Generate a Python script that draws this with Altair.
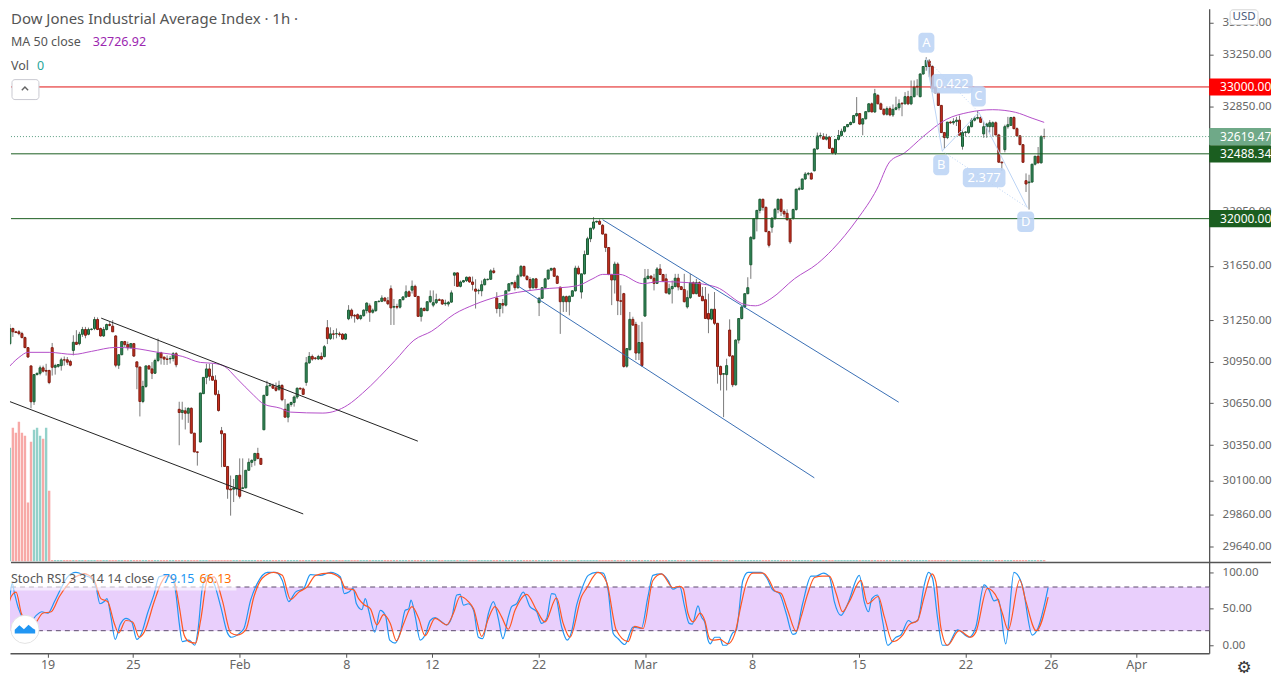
import altair as alt
import pandas as pd

FONT = "Noto Sans"
PLOT_W = 1202
PRICE_H = 554
STOCH_H = 91

first_bar = -78
opens = [
    31055,31079,31189,31165,31165,31152,31123,31050,30918,30660,
    30855,30865,30904,30885,30885,31050,30908,30915,30920,30962,
    30962,30950,31030,31089,31079,31147,31182,31147,31182,31189,
    31255,31189,31135,31182,31218,31206,31135,30923,30999,31094,
    31072,31050,31079,30947,30910,30662,30770,30918,30896,30865,
    30957,31013,30982,30968,30968,30972,31006,30606,30583,30595,
    30578,30613,30436,30303,30373,30718,30835,30896,30843,30815,
    30713,30453,30432,30200,30042,30040,30042,30138,30045,30050,
    30173,30229,30243,30292,30257,30460,30706,30775,30775,30760,
    30750,30777,30606,30550,30641,30655,30694,30757,30752,30799,
    30940,30986,30975,30968,30986,
    30985,31195,31116,31150,31150,31150,31148,31112,31260,31323,
    31285,31290,31262,31283,31320,31355,31308,31320,31386,31388,
    31412,31392,31480,31345,31350,31345,31400,31420,31458,31470,
    31498,31424,31278,31335,31320,31385,31360,31378,31400,31398,
    31370,31368,31382,31580,31597,31498,31530,31540,31565,31530,
    31478,31465,31465,31510,31548,31550,31612,31412,31335,31372,
    31360,31465,31517,31525,31488,31575,31645,31572,31548,31488,
    31553,31378,31410,31488,31553,31618,31630,31572,31492,31385,
    31422,31385,31425,31465,31632,31456,31590,31733,31850,31929,
    31975,31980,31950,31885,31785,31585,31545,31662,31392,31444,
    30916,31035,31256,31219,31011,31087,31280,31555,31573,31558,
    31520,31626,31585,31553,31444,31480,31497,31558,31495,31475,
    31347,31415,31525,31444,31525,31425,31400,31299,31258,31330,
    31227,30914,30858,30855,31178,30990,30782,31105,31262,31347,
    31444,31657,31850,32000,32062,32145,32085,31903,31936,32005,
    32070,32145,32055,32040,31992,32005,32068,32221,32221,32298,
    32335,32340,32360,32525,32624,32620,32600,32615,32530,32495,
    32598,32628,32660,32695,32712,32727,
    32780,32795,
    32715,32755,32810,32870,32808,32935,32870,32828,32790,32833,32785,32828,32840,
    32875,32870,32925,32870,32925,33000,32925,33100,33158,33200,
    33158,32995,32955,32858,32650,32612,32730,32725,32735,32745,
    32545,32650,32650,32695,32745,32760,32765,32640,32695,32695,
    32695,32725,32632,32425,32520,32695,32705,32765,32680,32625,
    32558,32285,32270,32275,32410,32470,32420,32620,
]
highs = [
    31104,31221,31196,31172,31177,31165,31130,31055,30918,30855,
    30865,30920,30920,30933,30890,31084,30933,30930,30977,30986,
    30982,30962,31140,31177,31165,31201,31201,31196,31190,31274,
    31270,31196,31201,31225,31238,31250,31140,31000,31095,31099,
    31094,31084,31084,30947,30910,30811,30918,30925,30945,30970,
    31116,31020,30982,30994,30990,31018,31018,30660,30660,30620,
    30620,30620,30436,30305,30723,30835,30933,30933,30933,30850,
    30742,30480,30432,30200,30136,30112,30136,30257,30257,30170,
    30257,30250,30296,30332,30257,30710,30811,30795,30790,30798,
    30811,30786,30680,30650,30660,30705,30762,30762,30762,30982,
    31018,31000,30982,30998,31015,
    31069,31251,31198,31178,31190,31165,31155,31155,31360,31335,
    31295,31299,31290,31330,31380,31372,31335,31390,31396,31432,
    31420,31420,31505,31405,31370,31400,31425,31505,31468,31541,
    31510,31425,31345,31345,31385,31468,31468,31444,31410,31405,
    31400,31390,31468,31600,31600,31541,31545,31570,31570,31570,
    31550,31480,31541,31560,31555,31625,31635,31455,31375,31405,
    31465,31520,31530,31541,31590,31655,31650,31580,31565,31555,
    31560,31420,31490,31560,31620,31635,31640,31580,31495,31430,
    31430,31430,31470,31650,31650,31590,31762,31865,31930,32012,
    31985,31995,31960,31885,31785,31590,31680,31675,31505,31450,
    31045,31310,31275,31238,31214,31238,31626,31626,31580,31590,
    31640,31662,31590,31590,31517,31541,31590,31590,31500,31590,
    31468,31590,31535,31553,31535,31493,31493,31444,31330,31456,
    31230,30920,30865,30970,31256,30995,31110,31262,31350,31444,
    31565,31870,32000,32065,32150,32150,32090,31910,32005,32080,
    32150,32150,32070,32070,31998,32075,32225,32240,32300,32350,
    32350,32350,32530,32650,32650,32645,32640,32625,32535,32600,
    32670,32680,32700,32715,32735,32785,
    32922,32800,
    32760,32810,32875,32880,32985,32945,32880,32835,32850,32850,32865,32925,32905,
    32880,32960,32970,33050,33050,33060,33105,33160,33230,33215,
    33170,33000,32960,32860,32655,32730,32740,32760,32770,32780,
    32665,32660,32705,32760,32775,32820,32775,32735,32725,32745,
    32735,32735,32640,32430,32710,32770,32770,32775,32690,32630,
    32560,32340,32330,32410,32470,32540,32630,32680,
]
lows = [
    31048,31067,31128,31155,31140,31118,31050,30977,30613,30637,
    30850,30850,30870,30848,30786,30848,30855,30905,30884,30920,
    30925,30915,30994,31070,31067,31128,31118,31140,31175,31177,
    31177,31130,31128,31175,31205,31165,30908,30896,30995,31055,
    31030,31045,30982,30750,30555,30650,30760,30890,30823,30860,
    30945,30928,30925,30925,30935,30950,30908,30350,30532,30462,
    30509,30435,30300,30206,30370,30715,30786,30811,30811,30705,
    30590,30195,30200,29973,29855,29950,29996,29975,30040,30045,
    30170,30195,30206,30250,30212,30458,30700,30770,30755,30733,
    30738,30664,30548,30513,30625,30625,30680,30745,30710,30775,
    30933,30955,30960,30960,30960,
    30980,31076,31106,31110,31118,31130,31105,31105,31250,31262,
    31232,31251,31250,31275,31299,31238,31298,31310,31380,31382,
    31385,31360,31215,31215,31330,31335,31395,31412,31420,31445,
    31420,31275,31240,31315,31315,31375,31345,31368,31390,31362,
    31355,31350,31378,31500,31497,31490,31525,31530,31525,31468,
    31335,31440,31425,31505,31540,31545,31590,31300,31275,31300,
    31350,31460,31505,31468,31480,31565,31570,31540,31465,31480,
    31480,31280,31405,31480,31545,31610,31570,31515,31150,31310,
    31310,31285,31420,31460,31585,31408,31585,31730,31825,31915,
    31970,31955,31882,31752,31580,31360,31445,31287,31287,30905,
    30905,31030,31210,30960,30960,30910,31275,31550,31550,31468,
    31515,31585,31535,31445,31435,31372,31490,31468,31470,31380,
    31335,31405,31440,31440,31425,31390,31260,31155,31250,31214,
    30790,30741,30550,30741,30985,30765,30775,31080,31255,31340,
    31440,31553,31845,31905,32040,32060,31900,31785,31895,31990,
    32040,32020,32010,31985,31812,31992,32060,32210,32215,32290,
    32325,32295,32355,32520,32605,32595,32590,32525,32485,32480,
    32590,32620,32650,32690,32705,32720,
    32770,32710,
    32630,32750,32805,32805,32800,32868,32825,32780,32780,32775,32770,32820,32820,
    32775,32865,32860,32860,32920,32935,32920,33095,33125,33075,
    32960,32950,32855,32650,32525,32600,32715,32710,32700,32630,
    32520,32620,32640,32690,32735,32750,32725,32610,32610,32650,
    32620,32630,32420,32360,32500,32680,32700,32675,32620,32555,
    32424,32200,32068,32270,32400,32415,32415,32600,
]
closes = [
    31050,31189,31165,31160,31152,31123,31050,30982,30660,30855,
    30865,30904,30880,30880,30798,30908,30920,30928,30962,30960,
    30945,30923,31089,31074,31147,31182,31140,31182,31185,31255,
    31182,31135,31182,31218,31212,31165,30923,30999,31094,31072,
    31050,31079,30989,30910,30662,30770,30918,30896,30865,30957,
    31013,30977,30967,30965,30972,31006,30926,30583,30599,30578,
    30613,30436,30303,30300,30723,30835,30896,30843,30815,30713,
    30597,30432,30200,30040,30035,30047,30136,29990,30050,30173,
    30229,30243,30292,30257,30215,30706,30772,30780,30757,30742,
    30777,30675,30550,30641,30655,30694,30757,30752,30713,30940,
    30986,30967,30972,30986,30968,
    31057,31116,31150,31147,31152,31145,31112,31148,31323,31282,
    31280,31262,31283,31323,31375,31308,31323,31386,31388,31412,
    31392,31370,31340,31350,31345,31400,31420,31458,31425,31498,
    31424,31278,31335,31320,31385,31424,31378,31400,31395,31368,
    31375,31380,31450,31597,31498,31530,31540,31565,31530,31512,
    31462,31468,31510,31548,31550,31612,31600,31335,31372,31360,
    31465,31517,31525,31488,31575,31645,31575,31548,31488,31553,
    31488,31410,31488,31553,31618,31630,31572,31520,31385,31422,
    31385,31425,31465,31632,31590,31590,31733,31850,31929,31975,
    31980,31958,31885,31785,31585,31545,31662,31392,31388,30914,
    31043,31256,31214,31011,31087,30921,31558,31573,31558,31520,
    31626,31585,31536,31450,31480,31497,31558,31493,31475,31385,
    31415,31525,31444,31525,31425,31392,31262,31258,31330,31227,
    30914,30855,30862,30920,30990,30782,31105,31262,31347,31444,
    31488,31860,32000,32062,32145,32085,31903,31802,32005,32070,
    32145,32055,32035,31992,31827,32068,32221,32225,32298,32335,
    32340,32297,32525,32624,32628,32600,32615,32530,32495,32598,
    32628,32660,32695,32712,32727,32780,
    32795,32715,
    32755,32810,32870,32808,32948,32870,32828,32790,32833,32785,32828,32840,32870,
    32870,32925,32870,32925,33000,33005,33100,33158,33205,33158,
    32985,32955,32858,32650,32612,32730,32725,32735,32745,32630,
    32650,32655,32695,32745,32760,32765,32728,32695,32715,32725,
    32725,32632,32425,32420,32695,32710,32765,32680,32625,32558,
    32424,32260,32275,32410,32470,32420,32620,32619.47,
]

ma_bars = [-78,-74,-71,-64,-56,-50,-42,-36,-28,-20,-14,-9.5,-6,-2,3.6,7,12.4,15.7,26.5,34.7,39.6,50.4,56.6,62.5,70,76.5,84.4,90.9,98.5,110.6,115.8,119,124.6,132.2,137.7,147.5,156.4,166.2,169.5,174.7,182.5,190,195,203.1,209.7,213.9,218.8,225,232.6,240.1,248,255.5,261,265]
ma_vals = [30893,30979,31016,31016,31001,31023,31052,31045,31016,30987,30943,30936,30914,30829,30707,30643,30614,30586,30579,30636,30721,30957,31104,31170,31295,31363,31423,31454,31477,31502,31555,31586,31586,31518,31533,31525,31494,31363,31355,31408,31555,31665,31770,31992,32222,32427,32495,32620,32750,32805,32825,32805,32760,32728]

vol_values = [103,114,134,129,140,129,126,59,120,132,134,126,123,134,71]
vol_up = [False,True,False,False,False,False,False,False,False,True,True,True,False,True,False]

stoch_k_bars = [-78,-76.6,-75.5,-74.6,-73.8,-72.7,-71.6,-70,-66.7,-64.9,-62.9,-60.7,-58.6,-56.4,-53.7,-50.9,-48.7,-47.1,-45.8,-44.4,-43.5,-42.2,-40.8,-39.2,-37.3,-35.4,-33.7,-32.4,-30.2,-28,-26.4,-24.2,-22,-20.9,-19.8,-18.8,-16.6,-14.7,-13.6,-12.2,-10.6,-8.4,-6.2,-4,-2.7,-0.2,1.4,3.6,5.8,9.1,11.8,14,16.1,18.3,21,23.2,26.5,29.8,
    33,34.3,35.8,37.2,38.3,40.1,41.2,42.3,44.3,46.1,47.8,49.2,51,52.7,54.3,55.4,56.2,57.6,59.2,60.8,62.5,64.1,66.3,67.9,69.6,71.2,72.3,73.4,75,76.7,78.3,79.7,81.6,83.2,84.8,86.3,88.1,89.2,90.8,93,95.2,97.4,99,100.7,102.3,103.4,105.6,107.4,108.8,110.5,112.1,114.3,117,119.2,120.8,122.5,124.1,126.3,129,131.7,133.9,135.5,138.3,140.5,142.1,
    144.3,145.9,147.4,148.4,150.3,151.4,152.5,153.6,154.3,155.8,157.4,158.5,159.6,161.7,162.8,165,166.7,171,172.9,174.8,177,179.2,181.4,182.3,184.6,187.4,189,191.4,193.4,195,197.2,199.4,203.2,204.8,206.2,207.3,209.2,210.8,212.5,215.2,216.8,219.3,220.6,222.3,224.5,225.9,227.2,228.8,230.5,232.1,235.4,239.2,241.4,244.1,245.7,247.4,248.8,251.2,253.9,256.6,259.9,261.5,265.1]
stoch_k_vals = [40,40,62,85,71,53,41,23,41,46,44,60,78,94,100,96,92,80,57,60,64,39,8,28,37,32,8,14,44,71,94,96,92,71,30,5,7,0,23,80,96,85,53,17,11,16,23,62,85,100,100,89,60,73,78,97,96,100,
    94,71,73,78,57,49,64,48,18,48,41,7,3,18,48,50,62,39,7,14,34,38,32,28,39,69,70,55,57,48,11,9,44,60,37,9,39,53,57,73,53,46,30,37,71,70,25,7,18,55,76,96,100,99,76,16,9,1,25,23,67,96,98,89,77,
    81,53,30,29,54,39,32,7,2,11,11,0,0,17,20,89,100,100,92,76,71,44,15,16,57,95,95,99,94,60,41,57,96,60,46,64,69,34,0,11,14,34,31,34,83,100,92,39,0,0,21,11,25,83,76,61,63,2,100,83,14,21,79.15]
stoch_d_bars = [-77.6,-76.6,-74.9,-73.3,-71.6,-68.9,-66.7,-64.6,-61.8,-59.1,-56.4,-53.7,-50.9,-47.7,-45.5,-43.3,-41.1,-39.7,-37.3,-35.1,-32.9,-31.3,-28,-25.8,-23.7,-21.5,-19.8,-18.2,-16.6,-14.4,-12.8,-10.6,-8.4,-5.7,-2.9,-0.8,2,4.7,7.4,11.2,14,16.7,19.4,22.1,24.9,29.2,
    33,34.7,37.4,39,40.7,42.9,45,47.2,49.4,51.4,53.8,56.5,58.7,60.8,64.1,67.9,70.1,72.3,75,76.7,79.4,81.6,83.7,85.9,88.1,90.3,94.1,97.4,100.1,103.9,106.1,108.3,112.1,113.7,117.5,120.3,123.5,127.4,129.5,132.3,135.5,138.3,142.1,
    144.3,145.4,147,148.7,151,152.5,154.1,155.2,157.4,160.1,162.3,164.5,166.1,168.3,171.6,173.7,175.4,177.6,179.7,182.5,184.1,186.3,188.5,191.2,193.4,195.6,197.7,199.9,203.7,205.9,209.4,211.4,214.1,217.4,219.5,222.3,224.5,227,228.3,229.9,232.1,235.9,239.7,241.4,245.2,248.5,250.1,252,255.8,257.7,261.2,265.1]
stoch_d_vals = [69,48,67,73,44,28,32,44,46,67,83,94,98,89,64,60,30,17,34,32,11,18,60,85,96,89,53,14,5,3,34,89,94,62,17,14,21,67,92,100,96,63,73,80,96,99,
    92,78,76,64,56,50,28,42,30,6,30,53,37,13,37,28,44,67,60,50,12,37,53,39,22,48,70,48,32,65,30,11,67,78,100,87,21,5,26,23,89,98,79,
    81,78,44,32,44,34,9,7,8,2,15,57,85,99,99,89,75,71,48,19,39,71,93,95,95,71,46,60,89,57,67,39,5,14,28,34,67,98,87,25,0,20,11,18,78,64,44,21,90,62,20,66.13]

price_ticks = [33500,33250,32850,32050,31650,31250,30950,30650,30350,30100,29860,29640]
stoch_ticks = [100,50,0]
time_bars = [-63,-35,0,35,63,98,133,168,203,238,266,294]
time_labels = ["19","25","Feb","8","12","22","Mar","8","15","22","26","Apr"]

level_vals = [33000,32488.34,32000]
level_colors = ["#e01010","#1b5e20","#1b5e20"]
last_price = 32619.47

tag_vals = [33000,32619.47,32488.34,32000]
tag_colors = ["#ff0000","#6fa988","#1b5e20","#1b5e20"]

channel_names = ["k1","k1","k2","k2","b1","b1","b2","b2"]
channel_bars = [-46.8,57.9,-78.2,20,119,216.9,90.9,189]
channel_vals = [31265,30379,30671,29867,31992,30657,31502,30120]
channel_cols = ["#222222","#222222","#222222","#222222","#3a6fb5","#3a6fb5","#3a6fb5","#3a6fb5"]

# harmonic pattern A, B, C, D
pat_bars = [226,231.3,243.4,259.4]
pat_vals = [33218,32510,32805,32083]

box_text = ["A","B","C","D","0.422","2.377"]
box_bar0 = [223.4,228.3,240.8,256.1,227.7,238.1]
box_bar1 = [228.7,233.6,245.7,261.7,241.4,252.2]
box_top = [33420,32480,33008,32053,33100,32381]
box_bot = [33265,32327,32850,31901,32950,32236]

x_scale = alt.Scale(domain=[-75.3,317.9], nice=False, zero=False)
y_scale = alt.Scale(type="log", domain=[29537,33608], nice=False)
s_scale = alt.Scale(domain=[-11,113.7], nice=False, zero=False)


def label(txt, x, y, color, size=13, align="left", weight="normal", font=FONT):
    return alt.Chart(pd.DataFrame({"t":[txt]})).mark_text(
        align=align, baseline="middle", font=font, fontSize=size, color=color, fontWeight=weight
    ).encode(text="t:N", x=alt.value(x), y=alt.value(y))


def pixel_rect(x, x2, y, y2, fill, opacity=1.0, stroke=None, radius=0):
    kw = {"stroke":stroke} if stroke else {}
    return alt.Chart(pd.DataFrame({"a":[1]})).mark_rect(
        fill=fill, opacity=opacity, cornerRadius=radius, **kw
    ).encode(x=alt.value(x), x2=alt.value(x2), y=alt.value(y), y2=alt.value(y2))


bars = pd.DataFrame({"open":opens,"high":highs,"low":lows,"close":closes})
bars["bar"] = range(first_bar, first_bar + len(bars))
bars["dir"] = ["up" if c >= o else "down" for o, c in zip(opens, closes)]

X = alt.X("bar:Q", scale=x_scale, axis=None)

wicks = alt.Chart(bars).mark_rule(color="#7a7a7a", strokeWidth=1, clip=True).encode(
    x=X, y=alt.Y("low:Q", scale=y_scale, title=None,
                 axis=alt.Axis(orient="right", values=price_ticks, format=".2f", title=None)),
    y2="high:Q")
bodies = alt.Chart(bars).mark_bar(size=2, strokeWidth=1, clip=True).encode(
    x=X, y=alt.Y("open:Q", scale=y_scale), y2="close:Q",
    fill=alt.Fill("dir:N", scale=alt.Scale(domain=["up","down"], range=["#338a5c","#c9301f"]), legend=None),
    stroke=alt.Stroke("dir:N", scale=alt.Scale(domain=["up","down"], range=["#1c5a33","#7e1c12"]), legend=None))

ma_line = alt.Chart(pd.DataFrame({"bar":ma_bars,"v":ma_vals})).mark_line(
    color="#b44ec9", strokeWidth=1, clip=True, interpolate="monotone"
).encode(x=X, y=alt.Y("v:Q", scale=y_scale))

channels = alt.Chart(pd.DataFrame({"bar":channel_bars,"v":channel_vals,"n":channel_names,"c":channel_cols})).mark_line(
    strokeWidth=1, clip=True
).encode(x=X, y=alt.Y("v:Q", scale=y_scale), detail="n:N", color=alt.Color("c:N", scale=None))

levels = alt.Chart(pd.DataFrame({"v":level_vals,"c":level_colors})).mark_rule(strokeWidth=1).encode(
    x=alt.value(1), x2=alt.value(PLOT_W), y=alt.Y("v:Q", scale=y_scale), color=alt.Color("c:N", scale=None))
last_line = alt.Chart(pd.DataFrame({"v":[last_price]})).mark_rule(
    color="#5a9e82", strokeWidth=1, strokeDash=[1,2]
).encode(x=alt.value(1), x2=alt.value(PLOT_W), y=alt.Y("v:Q", scale=y_scale))

pat = pd.DataFrame({"bar":pat_bars,"v":pat_vals,"p":["A","B","C","D"]})
pat_solid = alt.Chart(pat).mark_line(color="#bcd4f5", strokeWidth=1, clip=True).encode(
    x=alt.X("bar:Q", scale=x_scale, axis=None, sort=None), y=alt.Y("v:Q", scale=y_scale), order="p:N")
pat_dots = alt.Chart(pd.DataFrame({
    "bar":[pat_bars[0],pat_bars[2],pat_bars[1],pat_bars[3]],
    "v":[pat_vals[0],pat_vals[2],pat_vals[1],pat_vals[3]],
    "n":["ac","ac","bd","bd"]})).mark_line(color="#bcd4f5", strokeWidth=1, strokeDash=[1,2], clip=True).encode(
    x=X, y=alt.Y("v:Q", scale=y_scale), detail="n:N")

boxes = pd.DataFrame({"t":box_text,"b0":box_bar0,"b1":box_bar1,"top":box_top,"bot":box_bot})
boxes["bm"] = (boxes["b0"] + boxes["b1"]) / 2
boxes["pm"] = (boxes["top"] + boxes["bot"]) / 2
box_rects = alt.Chart(boxes).mark_rect(fill="#bcd4f5", opacity=0.88, cornerRadius=4).encode(
    x=alt.X("b0:Q", scale=x_scale, axis=None), x2="b1:Q", y=alt.Y("top:Q", scale=y_scale), y2="bot:Q")
box_labels = alt.Chart(boxes).mark_text(color="white", font=FONT, fontSize=13).encode(
    x=alt.X("bm:Q", scale=x_scale, axis=None), y=alt.Y("pm:Q", scale=y_scale), text="t:N")

tags = pd.DataFrame({"v":tag_vals,"c":tag_colors,"t":[f"{v:.2f}" for v in tag_vals]})
tags["hi"] = tags["v"] + 65
tags["lo"] = tags["v"] - 65
tag_rects = alt.Chart(tags).mark_rect(cornerRadius=1).encode(
    x=alt.value(PLOT_W), x2=alt.value(PLOT_W + 62), y=alt.Y("hi:Q", scale=y_scale), y2="lo:Q",
    fill=alt.Fill("c:N", scale=None))
tag_text = alt.Chart(tags).mark_text(color="white", font=FONT, fontSize=12, align="left").encode(
    x=alt.value(PLOT_W + 11), y=alt.Y("v:Q", scale=y_scale), text="t:N")

main = alt.layer(
    wicks, bodies, ma_line, channels, levels, last_line, pat_solid, pat_dots,
    box_rects, box_labels, tag_rects, tag_text,
    label("Dow Jones Industrial Average Index \u00b7 1h \u00b7", 1, 10, "#555555", 15),
    label("MA 50 close", 1, 33, "#555555", 12.5),
    label("32726.92", 83, 33, "#9c27b0", 12.5),
    label("Vol", 1, 57, "#555555", 12.5),
    label("0", 27, 57, "#26a69a", 12.5),
    pixel_rect(2, 29, 71, 91, "white", stroke="#c9c9d1", radius=3),
    alt.Chart(pd.DataFrame({"a":[1]})).mark_point(
        shape="M-1,0.5L0,-0.5L1,0.5", filled=False, size=40, color="#222222", strokeWidth=1.4
    ).encode(x=alt.value(15), y=alt.value(80)),
    pixel_rect(1223, 1251, 1, 16, "white", stroke="#d5d5d5", radius=3),
    label("USD", 1237, 8, "#4a5a7a", 11.5, align="center"),
)

vol = pd.DataFrame({"bar":range(first_bar, first_bar + len(vol_values)),"vol":vol_values,
                    "c":["#93d1ca" if u else "#f7a9a7" for u in vol_up]})
vol_tail = bars[bars["bar"] >= first_bar + len(vol_values)][["bar","dir"]].copy()
vol_tail["vol"] = 1.5
vol_tail["c"] = ["#93d1ca" if d == "up" else "#f7a9a7" for d in vol_tail["dir"]]
vol_all = pd.concat([vol, vol_tail[["bar","vol","c"]]])
vol_bars = alt.Chart(vol_all).mark_bar(size=2.4, clip=True).encode(
    x=X,
    y=alt.Y("vol:Q", scale=alt.Scale(domain=[0,PRICE_H], nice=False), axis=None),
    color=alt.Color("c:N", scale=None))

price_panel = alt.layer(vol_bars, main).resolve_scale(y="independent").properties(width=PLOT_W, height=PRICE_H)

# stoch rsi panel
label_expr = "{" + ",".join(f"'{b}':'{t}'" for b, t in zip(time_bars, time_labels)) + "}[datum.value]"
band = alt.Chart(pd.DataFrame({"a":[80],"b":[20]})).mark_rect(fill="#e9cffc").encode(
    x=alt.value(0), x2=alt.value(PLOT_W),
    y=alt.Y("a:Q", scale=s_scale, title=None,
            axis=alt.Axis(orient="right", values=stoch_ticks, format=".2f", title=None)),
    y2="b:Q")
band_lines = alt.Chart(pd.DataFrame({"v":[80,20]})).mark_rule(
    color="#5d4a6d", strokeWidth=1, strokeDash=[5,4]
).encode(x=alt.value(1), x2=alt.value(PLOT_W), y=alt.Y("v:Q", scale=s_scale))
X_S = alt.X("bar:Q", scale=x_scale, title=None,
            axis=alt.Axis(values=time_bars, labelExpr=label_expr, title=None))
k_line = alt.Chart(pd.DataFrame({"bar":stoch_k_bars,"v":stoch_k_vals})).mark_line(
    color="#2196f3", strokeWidth=1.2, clip=True, interpolate="monotone").encode(x=X_S, y=alt.Y("v:Q", scale=s_scale))
d_line = alt.Chart(pd.DataFrame({"bar":stoch_d_bars,"v":stoch_d_vals})).mark_line(
    color="#ff5722", strokeWidth=1.2, clip=True, interpolate="monotone").encode(x=X_S, y=alt.Y("v:Q", scale=s_scale))
top_rule = alt.Chart(pd.DataFrame({"a":[1]})).mark_rule(color="#555555", strokeWidth=1.5).encode(
    x=alt.value(1), x2=alt.value(PLOT_W + 62), y=alt.value(0))

logo_disc = alt.Chart(pd.DataFrame({"a":[1]})).mark_point(
    shape="circle", filled=True, size=800, fill="white", stroke="#e3e3e3", strokeWidth=1, opacity=1
).encode(x=alt.value(15), y=alt.value(67))
logo_cloud = alt.Chart(pd.DataFrame({"a":[1]})).mark_point(
    shape="M-1,0.5L-1,0.15L-0.55,-0.3L-0.1,0.1L0.35,-0.35L0.75,0L1,0.15L1,0.5Z",
    filled=True, size=420, color="#2196f3", opacity=1
).encode(x=alt.value(15), y=alt.value(66))

stoch_panel = alt.layer(
    band, band_lines, k_line, d_line, top_rule,
    pixel_rect(0, 227, 11, 28, "white", opacity=0.6),
    label("Stoch RSI 3 3 14 14 close", 1, 17, "#555555", 12.5),
    label("79.15", 153, 17, "#2196f3", 12.5),
    label("66.13", 190, 17, "#ff6d00", 12.5),
    logo_disc, logo_cloud,
    label("\u2699", PLOT_W + 35, 106, "#333333", 17, align="center", font="DejaVu Sans"),
).properties(width=PLOT_W, height=STOCH_H)

chart = alt.vconcat(price_panel, stoch_panel, spacing=0).properties(
    padding=0, background="white"
).configure_view(stroke=None).configure_axis(
    grid=False, domainColor="#555555", domainWidth=1.3, tickColor="#555555", tickSize=4,
    labelColor="#666666", labelFont=FONT, labelFontSize=11.5, labelPadding=9
).configure_axisX(labelFontSize=12.5, labelPadding=1, labelColor="#666666")

chart.save("out.html", embed_options={"renderer": "svg", "actions": False})
